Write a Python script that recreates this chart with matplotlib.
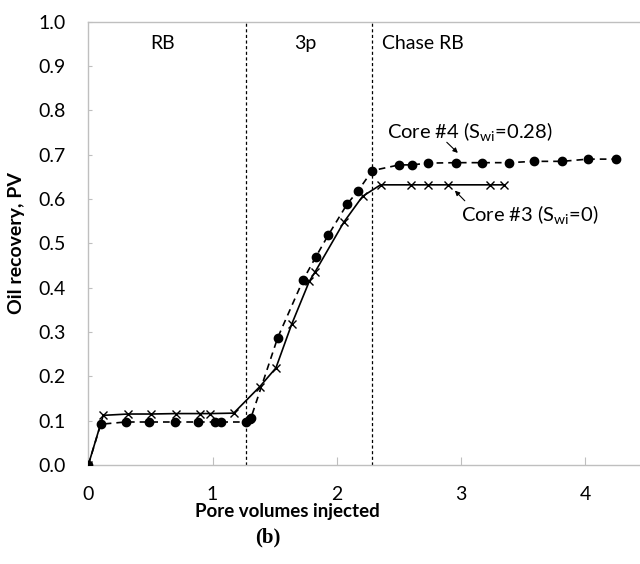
import numpy as np
import matplotlib
matplotlib.use("Agg")
import matplotlib.pyplot as plt

# Core #4 (Swi = 0.28), dots, dashed line
core4_pv = [0.0, 0.10, 0.30, 0.49, 0.70, 0.885, 1.02, 1.07, 1.266, 1.30, 1.31,
            1.524, 1.73, 1.83, 1.93, 2.084, 2.167, 2.285, 2.502, 2.602, 2.736,
            2.958, 3.165, 3.384, 3.588, 3.813, 4.022, 4.246]
core4_oil = [0.0, 0.092, 0.097, 0.097, 0.097, 0.097, 0.097, 0.097, 0.097, 0.103, 0.107,
             0.287, 0.418, 0.469, 0.518, 0.589, 0.617, 0.664, 0.677, 0.677, 0.681,
             0.682, 0.682, 0.682, 0.685, 0.685, 0.690, 0.690]

# Core #3 (Swi = 0), crosses, solid line
core3_pv = [0.0, 0.12, 0.32, 0.505, 0.705, 0.90, 0.98, 1.17, 1.381, 1.51, 1.636,
            1.778, 1.824, 2.057, 2.207, 2.352, 2.60, 2.736, 2.896, 3.232, 3.347]
core3_oil = [0.0, 0.112, 0.115, 0.115, 0.116, 0.116, 0.116, 0.117, 0.177, 0.219, 0.317,
             0.414, 0.435, 0.548, 0.606, 0.632, 0.632, 0.632, 0.632, 0.632, 0.632]

stage_bounds = [1.27, 2.285]
stage_names = ["RB", "3p", "Chase RB"]
stage_x = [0.60, 1.75, 2.36]
stage_ha = ["center", "center", "left"]

plt.rcParams['font.family'] = ['Lato', 'DejaVu Sans']
plt.rcParams['mathtext.fontset'] = 'custom'
plt.rcParams['mathtext.rm'] = 'Lato'
plt.rcParams['mathtext.it'] = 'Lato:italic'

fig = plt.figure(figsize=(6.4, 5.64), dpi=100)
ax = fig.add_axes([88.3 / 640, 1 - 465 / 564, 1 - 88.3 / 640, (465 - 21.7) / 564])

ax.plot(core4_pv, core4_oil, color='black', linestyle=(0, (4, 3)), linewidth=1.2,
        marker='o', markersize=6, zorder=3)
ax.plot(core3_pv, core3_oil, color='black', linestyle='-', linewidth=1.2,
        marker='x', markersize=6, markeredgewidth=1.0, zorder=3)

for xb in stage_bounds:
    ax.axvline(xb, color='black', linestyle=(0, (2.5, 2)), linewidth=0.9, zorder=2)

for name, xs, ha in zip(stage_names, stage_x, stage_ha):
    ax.text(xs, 0.95, name, ha=ha, va='center', fontsize=14)

# Annotations
arrow_style = dict(arrowstyle='-|>', color='black', lw=0.8,
                   mutation_scale=7, shrinkA=0, shrinkB=0)
ax.text(2.40, 0.752, 'Core #4 (S$_{\\mathrm{wi}}$=0.28)', fontsize=14.5,
        va='center', ha='left')
ax.annotate('', xy=(2.974, 0.704), xytext=(2.885, 0.728), arrowprops=arrow_style)
ax.text(3.0, 0.564, 'Core #3 (S$_{\\mathrm{wi}}$=0)', fontsize=14.5,
        va='center', ha='left')
ax.annotate('', xy=(2.95, 0.619), xytext=(3.03, 0.596), arrowprops=arrow_style)

ax.set_xlim(0, 4.44)
ax.set_ylim(0, 1.0)
ax.set_xticks(range(0, 5))
ax.set_yticks(np.arange(0, 1.01, 0.1))
ax.set_yticklabels([f"{v:.1f}" for v in np.arange(0, 1.01, 0.1)])
ax.tick_params(axis='both', labelsize=14, color='#bfbfbf')
ax.tick_params(axis='x', direction='in', length=6, pad=15)
ax.tick_params(axis='y', direction='in', length=3, pad=16)

for side in ['left', 'bottom', 'top']:
    ax.spines[side].set_color('#bfbfbf')
    ax.spines[side].set_linewidth(1.0)
ax.spines['right'].set_visible(False)

ax.set_xlabel('Pore volumes injected', fontsize=13.5, fontweight='bold')
ax.xaxis.set_label_coords((287 - 88.3) / (640 - 88.3), -38 / 443.3)
ax.set_ylabel('Oil recovery, PV', fontsize=14, fontweight='bold')
ax.yaxis.set_label_coords(-(88.3 - 25) / (640 - 88.3), 0.5)

fig.text(268 / 640, 1 - 537 / 564, '(b)', ha='center', va='center', fontsize=15,
         fontweight='bold', family='Liberation Serif')

fig.savefig('out.png', dpi=100)
